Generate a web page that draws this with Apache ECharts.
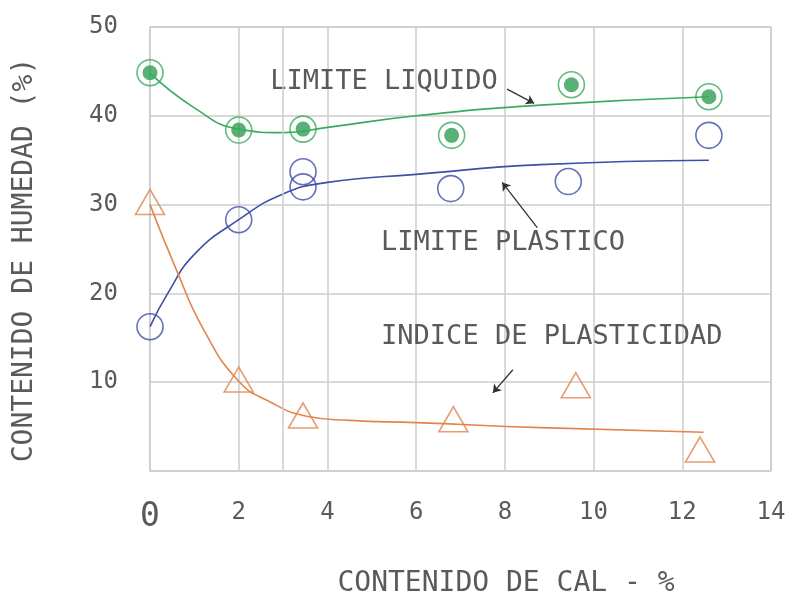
<!DOCTYPE html>
<html>
<head>
<meta charset="utf-8">
<script src="https://cdn.jsdelivr.net/npm/echarts@6/dist/echarts.min.js"></script>
<style>
  html, body { margin: 0; padding: 0; background: #fff; }
  #chart { width: 791px; height: 597px; }
</style>
</head>
<body>
<div id="chart"></div>
<script>
// Measured points: lime content (%) and moisture content (%)
const calLL = [0, 2, 3.45, 6.8, 9.5, 12.6];
const limiteLiquido = [44.85, 38.4, 38.5, 37.8, 43.5, 42.15];

const calLP = [0, 2, 3.45, 3.45, 6.78, 9.43, 12.6];
const limitePlastico = [16.25, 28.3, 33.7, 32.0, 31.8, 32.6, 37.8];

const calIP = [0, 2, 3.45, 6.84, 9.6, 12.4];
const indicePlasticidad = [30.3, 10.3, 6.25, 5.83, 9.66, 2.42];

// Hand-drawn trend curves
const curvaLLx = [0, 1, 2, 3, 4, 6, 8.8, 12.6];
const curvaLLy = [44.8, 40.9, 38.5, 38.1, 38.7, 40.0, 41.2, 42.15];

const curvaLPx = [0, 0.4, 1, 2, 3, 4, 6, 8.8, 12.6];
const curvaLPy = [16.25, 20.0, 24.4, 28.3, 31.2, 32.5, 33.4, 34.5, 35.0];

const curvaIPx = [0, 0.6, 1.2, 2, 2.7, 3.5, 4.5, 6, 8.8, 12.48];
const curvaIPy = [30.0, 22.6, 16.0, 10.1, 7.8, 6.2, 5.7, 5.45, 4.88, 4.36];

// Axis ticks
const xTicks = [0, 2, 4, 6, 8, 10, 12, 14];
const yTicks = [10, 20, 30, 40, 50];
const xExtraGrid = [3];

// Curve labels and their pointer arrows (data coordinates)
const etiquetas = [
  { texto: 'LIMITE LIQUIDO', x: 2.71, y: 43.8 },
  { texto: 'LIMITE PLASTICO', x: 5.21, y: 25.7 },
  { texto: 'INDICE DE PLASTICIDAD', x: 5.21, y: 15.1 }
];
const flechas = [
  [[8.05, 43.0], [8.66, 41.4]],
  [[8.73, 27.4], [7.94, 32.5]],
  [[8.18, 11.4], [7.73, 8.8]]
];

const FONT = 'DejaVu Sans Mono';
const GREEN = '#3aab5e';
const GREEN_DOT = '#2f9f52';
const BLUE = '#3d4fa6';
const ORANGE = '#e0854e';
const GRID = '#cdcdcd';
const TEXT = '#5a5a5a';

const zip = (xs, ys) => xs.map((x, i) => [x, ys[i]]);

const chart = echarts.init(document.getElementById('chart'), null, { renderer: 'canvas' });

const option = {
  animation: false,
  backgroundColor: '#fff',
  grid: { left: 150, right: 20, top: 27, bottom: 126, show: false },
  xAxis: {
    type: 'value',
    min: 0, max: 14, interval: 2,
    axisLine: { show: true, lineStyle: { color: GRID, width: 1.5 } },
    axisTick: { show: false },
    splitLine: { show: true, lineStyle: { color: GRID, width: 1.5 } },
    axisLabel: {
      margin: 30,
      color: TEXT,
      fontFamily: FONT,
      fontSize: 24,
      formatter: v => (xTicks.indexOf(v) === 0 ? '{cero|' + v + '}' : String(v)),
      rich: { cero: { fontFamily: FONT, fontSize: 33, color: TEXT } }
    }
  },
  yAxis: {
    type: 'value',
    min: 0, max: 50, interval: 10,
    axisLine: { show: true, lineStyle: { color: GRID, width: 1.5 } },
    axisTick: { show: false },
    splitLine: { show: true, lineStyle: { color: GRID, width: 1.5 } },
    axisLabel: {
      margin: 32,
      color: TEXT,
      fontFamily: FONT,
      fontSize: 24,
      formatter: v => (yTicks.indexOf(v) >= 0 ? String(v) : '')
    }
  },
  series: [
    // extra vertical grid line and the plot border
    {
      type: 'line', data: [], silent: true,
      markLine: {
        silent: true, symbol: ['none', 'none'], label: { show: false },
        lineStyle: { color: GRID, width: 1.5, type: 'solid' },
        data: xExtraGrid.concat([14]).map(v => ({ xAxis: v })).concat([{ yAxis: 50 }])
      }
    },
    {
      type: 'line', data: zip(curvaLLx, curvaLLy), smooth: 0.5,
      symbol: 'none', lineStyle: { color: GREEN, width: 1.6 }
    },
    {
      type: 'line', data: zip(curvaLPx, curvaLPy), smooth: 0.5,
      symbol: 'none', lineStyle: { color: BLUE, width: 1.6 }
    },
    {
      type: 'line', data: zip(curvaIPx, curvaIPy), smooth: 0.5,
      symbol: 'none', lineStyle: { color: ORANGE, width: 1.6 },
      markLine: {
        silent: true,
        symbol: ['none', 'arrow'], symbolSize: 8,
        label: { show: false },
        lineStyle: { color: '#333', width: 1.3, type: 'solid' },
        data: flechas.map(f => [{ coord: f[0] }, { coord: f[1] }])
      }
    },
    // liquid limit: ring + filled dot
    {
      type: 'scatter', data: zip(calLL, limiteLiquido), symbol: 'circle', symbolSize: 26,
      itemStyle: { color: 'rgba(0,0,0,0)', borderColor: GREEN, borderWidth: 1.6 }
    },
    {
      type: 'scatter', data: zip(calLL, limiteLiquido), symbol: 'circle', symbolSize: 15,
      itemStyle: { color: GREEN_DOT }
    },
    {
      type: 'scatter', data: zip(calLP, limitePlastico), symbol: 'circle', symbolSize: 26,
      itemStyle: { color: 'rgba(0,0,0,0)', borderColor: BLUE, borderWidth: 1.6 }
    },
    {
      type: 'scatter', data: zip(calIP, indicePlasticidad), symbol: 'triangle', symbolSize: [29, 25],
      itemStyle: { color: 'rgba(0,0,0,0)', borderColor: ORANGE, borderWidth: 1.6 }
    }
  ]
};

chart.setOption(option);

// Text labels placed from data coordinates, plus the axis titles
const graphics = etiquetas.map(e => {
  const p = chart.convertToPixel({ gridIndex: 0 }, [e.x, e.y]);
  return {
    type: 'text', x: p[0], y: p[1], silent: true,
    style: { text: e.texto, fontFamily: FONT, fontSize: 27, fill: TEXT, align: 'left', verticalAlign: 'middle' }
  };
});
graphics.push({
  type: 'text', x: 506, y: 584, silent: true,
  style: { text: 'CONTENIDO DE CAL - %', fontFamily: FONT, fontSize: 28, fill: TEXT, align: 'center', verticalAlign: 'middle' }
});
graphics.push({
  type: 'text', x: 25, y: 260, rotation: Math.PI / 2, silent: true,
  style: { text: 'CONTENIDO DE HUMEDAD (%)', fontFamily: FONT, fontSize: 28, fill: TEXT, align: 'center', verticalAlign: 'middle' }
});
chart.setOption({ graphic: graphics });
</script>
</body>
</html>
